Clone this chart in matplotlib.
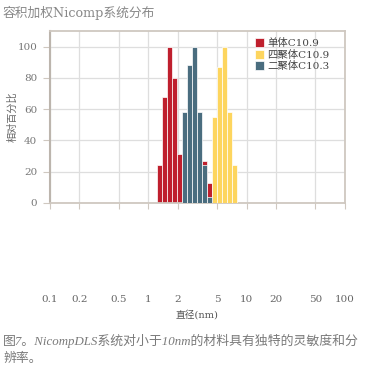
import numpy as np
import matplotlib
matplotlib.use('Agg')
import matplotlib.pyplot as plt

plt.rcParams['font.family'] = ['DejaVu Serif', 'Noto Sans CJK SC']

# bin centres (nm), equal width on a log axis
diameters = [1.31, 1.47, 1.65, 1.86, 2.09, 2.35, 2.64, 2.97,
             3.33, 3.75, 4.21, 4.73, 5.32, 5.98, 6.72, 7.55]

# visible bars of each population (bin index -> relative %)
mono_idx = [0, 1, 2, 3, 4, 9, 10]
mono_val = [24, 68, 100, 80, 31, 27, 13]
dimer_idx = [5, 6, 7, 8, 9, 10]
dimer_val = [58, 88, 100, 58, 24, 4]
tetra_idx = [11, 12, 13, 14, 15]
tetra_val = [55, 87, 100, 58, 24]

series = [
    ('单体C10.9', mono_idx, mono_val, '#bf1f2d', 2),
    ('四聚体C10.9', tetra_idx, tetra_val, '#fdd55e', 3),
    ('二聚体C10.3', dimer_idx, dimer_val, '#4a6d7f', 3),
]

xticks = [0.1, 0.2, 0.5, 1, 2, 5, 10, 20, 50, 100]
xticklabels = ['0.1', '0.2', '0.5', '1', '2', '5', '10', '20', '50', '100']

d = np.array(diameters)
ratio = d[1] / d[0]
left_edges = d / np.sqrt(ratio)
widths = d * np.sqrt(ratio) - left_edges

fig = plt.figure(figsize=(3.72, 3.73), dpi=100)
ax = fig.add_axes([0.134, 0.456, 0.793, 0.461])

for label, idx, vals, color, z in series:
    ax.bar(left_edges[idx], vals, width=widths[idx], align='edge',
           color=color, edgecolor='white', linewidth=0.5, label=label, zorder=z)

ax.set_xscale('log')
ax.set_xlim(0.1, 100)
ax.set_ylim(0, 110)
ax.set_xticks(xticks)
ax.set_xticklabels(xticklabels)
ax.xaxis.set_minor_locator(matplotlib.ticker.NullLocator())
ax.set_yticks([0, 20, 40, 60, 80, 100])

ax.grid(True, color='#dedede', linewidth=0.9, zorder=0)
ax.set_axisbelow(True)
for side in ['top', 'right', 'bottom']:
    ax.spines[side].set_color('#cfc8c0')
    ax.spines[side].set_linewidth(1.3)
ax.spines['left'].set_color('#bcb5ad')
ax.spines['left'].set_linewidth(1.5)

ax.tick_params(axis='x', length=4, color='#cfc8c0', labelsize=7.5,
               labelcolor='#666666', pad=62)
ax.tick_params(axis='y', length=5, color='#cfc8c0', labelsize=7.5,
               labelcolor='#777777', pad=4)

ax.set_xlabel('直径(nm)', fontsize=7, color='#555555', labelpad=4)
ax.set_ylabel('相对百分比', fontsize=7.3, color='#666666', labelpad=0)

ax.legend(loc='upper left', bbox_to_anchor=(0.67, 1.0), frameon=False,
          fontsize=7.5, handlelength=0.9, handleheight=0.9, handletextpad=0.3,
          labelspacing=0.15, labelcolor='#444444', borderaxespad=0.3)

fig.text(0.008, 0.965, '容积加权Nicomp系统分布', fontsize=9.2, color='#888888',
         va='center', ha='left')
caption_font = ['Liberation Serif', 'Noto Sans CJK SC']
fig.text(0.008, 0.085, '图7。NicompDLS系统对小于10nm的材料具有独特的灵敏度和分',
         fontsize=9.3, color='#7a7a7a', style='italic', va='center', ha='left',
         family=caption_font)
fig.text(0.008, 0.038, '辨率。', fontsize=9.3, color='#7a7a7a', style='italic',
         va='center', ha='left', family=caption_font)

fig.savefig('out.png', dpi=100)
